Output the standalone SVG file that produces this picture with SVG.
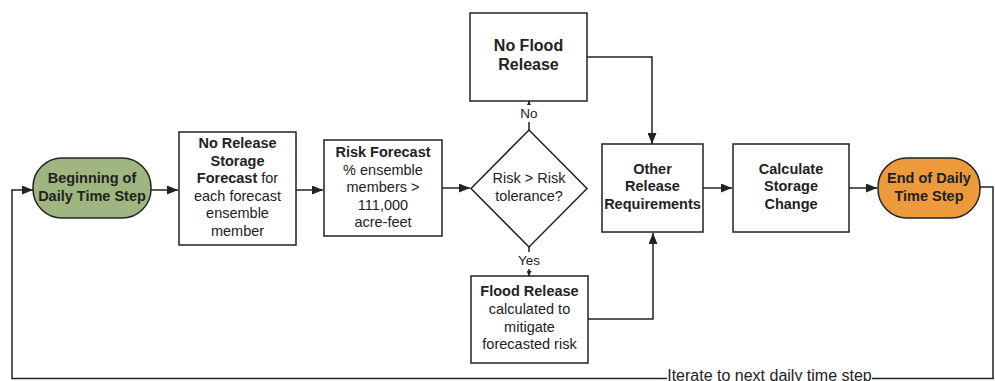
<svg xmlns="http://www.w3.org/2000/svg" width="995" height="381" viewBox="0 0 995 381">
<style>
.box{fill:#fff;stroke:#222;stroke-width:1.5}
.t{font-family:"Liberation Sans",Arial,sans-serif;font-size:14.5px;fill:#222;text-anchor:middle}
.b{font-weight:bold}
.big{font-size:16px}
.c{fill:none;stroke:#222;stroke-width:1.5}
.lbl{font-family:"Liberation Sans",Arial,sans-serif;font-size:13.5px;fill:#222;text-anchor:middle}
</style>
<defs>
<marker id="ah" markerUnits="userSpaceOnUse" markerWidth="11" markerHeight="9" refX="11" refY="4.5" orient="auto"><path d="M0,0 L11,4.5 L0,9 z" fill="#222"/></marker>
<marker id="sm" markerUnits="userSpaceOnUse" markerWidth="5" markerHeight="5" refX="5" refY="2.5" orient="auto"><path d="M0,0 L5,2.5 L0,5 z" fill="#222"/></marker>
</defs>
<rect width="995" height="381" fill="#fff"/>
<g id="connectors">
<path class="c" d="M151 190 H178" marker-end="url(#ah)"/>
<path class="c" d="M296 190 H323" marker-end="url(#ah)"/>
<path class="c" d="M442 188 H470" marker-end="url(#ah)"/>
<path class="c" d="M529 130 V101" marker-end="url(#sm)"/>
<path class="c" d="M529 247 V276" marker-end="url(#sm)"/>
<path class="c" d="M587 57 H652 V144" marker-end="url(#ah)"/>
<path class="c" d="M588 319 H653 V233" marker-end="url(#ah)"/>
<path class="c" d="M703 188 H732" marker-end="url(#ah)"/>
<path class="c" d="M849 188 H877" marker-end="url(#ah)"/>
<path class="c" d="M980 187 H993 V378.5 H12 V190 H33" marker-end="url(#ah)"/>
<rect x="519" y="105" width="20" height="17" fill="#fff"/>
<text class="lbl" x="529" y="118">No</text>
<rect x="516" y="252" width="26" height="17" fill="#fff"/>
<text class="lbl" x="529" y="265">Yes</text>
<rect x="667" y="367" width="205" height="14" fill="#fff"/>
<text class="t" style="font-size:16px" x="769.5" y="380.5">Iterate to next daily time step</text>
</g>
<g id="begin">
<rect x="33" y="158" width="118" height="60" rx="29" fill="#9fb680" stroke="#222" stroke-width="1.5"/>
<text class="t b" x="92" y="183">Beginning of</text>
<text class="t b" x="92" y="201">Daily Time Step</text>
</g>
<g id="noReleaseForecast">
<rect class="box" x="179" y="132" width="117" height="113"/>
<text class="t" x="237.5" y="148"><tspan class="b">No Release</tspan></text>
<text class="t" x="237.5" y="166"><tspan class="b">Storage</tspan></text>
<text class="t" x="237.5" y="183"><tspan class="b">Forecast</tspan> for</text>
<text class="t" x="237.5" y="201">each forecast</text>
<text class="t" x="237.5" y="218">ensemble</text>
<text class="t" x="237.5" y="236">member</text>
</g>
<g id="riskForecast">
<rect class="box" x="324" y="140" width="118" height="96"/>
<text class="t b" x="383" y="157">Risk Forecast</text>
<text class="t" x="383" y="175">% ensemble</text>
<text class="t" x="383" y="192">members &gt;</text>
<text class="t" x="383" y="210">111,000</text>
<text class="t" x="383" y="227">acre-feet</text>
</g>
<g id="decision">
<polygon class="box" points="529,130 587,188.5 529,247 471,188.5"/>
<text class="t" x="529" y="183">Risk &gt; Risk</text>
<text class="t" x="529" y="201">tolerance?</text>
</g>
<g id="noFlood">
<rect class="box" x="470" y="13" width="117" height="88"/>
<text class="t b big" x="528.5" y="51">No Flood</text>
<text class="t b big" x="528.5" y="70">Release</text>
</g>
<g id="floodRelease">
<rect class="box" x="471" y="276" width="117" height="87"/>
<text class="t b" x="529.5" y="296">Flood Release</text>
<text class="t" x="529.5" y="314">calculated to</text>
<text class="t" x="529.5" y="332">mitigate</text>
<text class="t" x="529.5" y="349">forecasted risk</text>
</g>
<g id="otherRelease">
<rect class="box" x="602" y="144" width="101" height="88"/>
<text class="t b" x="652.5" y="174">Other</text>
<text class="t b" x="652.5" y="191">Release</text>
<text class="t b" x="652.5" y="209">Requirements</text>
</g>
<g id="calcStorage">
<rect class="box" x="733" y="144" width="116" height="88"/>
<text class="t b" x="791" y="174">Calculate</text>
<text class="t b" x="791" y="191">Storage</text>
<text class="t b" x="791" y="209">Change</text>
</g>
<g id="end">
<rect x="878" y="158" width="102" height="60" rx="29" fill="#ec9a3c" stroke="#222" stroke-width="1.5"/>
<text class="t b" x="929" y="183">End of Daily</text>
<text class="t b" x="929" y="201">Time Step</text>
</g>
</svg>
